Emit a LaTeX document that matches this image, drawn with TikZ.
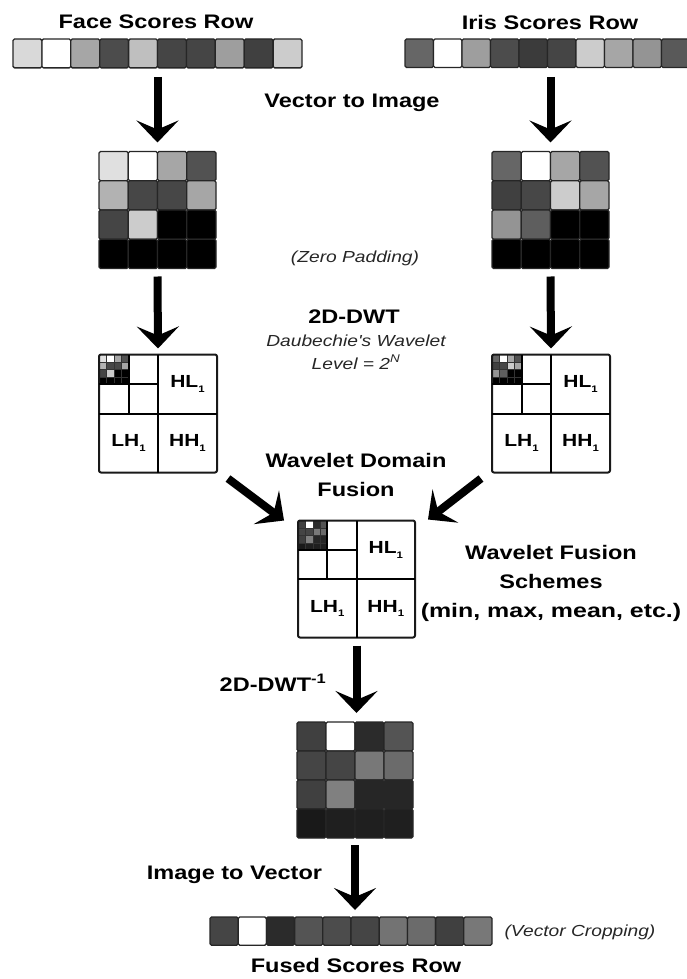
\documentclass[tikz,border=0pt]{standalone}
\usepackage{fontspec}
\setmainfont{Liberation Sans}
\newfontfamily\lblfont[FakeStretch=1.2]{Liberation Sans}
\usetikzlibrary{arrows.meta,positioning,calc}

\begin{document}
\begin{tikzpicture}[x=1pt,y=-1pt, line join=round, font=\lblfont,
    title/.style={font=\lblfont\bfseries\fontsize{19.6}{29}\selectfont, align=center, inner sep=0pt},
    note/.style={font=\lblfont\itshape\fontsize{16}{23}\selectfont, align=center, inner sep=0pt, text=black!85},
    band/.style={font=\lblfont\bfseries\fontsize{17.5}{18}\selectfont, inner sep=0pt},
    blk/.style={inner sep=0pt, outer sep=0pt},
    cell/.style={draw=black!85, line width=1.3pt, rounded corners=1.5pt},
    tiny/.style={draw=black!80, line width=.4pt},
    wbox/.style={draw=black!90, line width=2pt, rounded corners=2pt},
    bigarrow/.style={line width=8pt, -{Stealth[length=22pt,width=42pt,inset=9pt]}}]
  \useasboundingbox (0,0) rectangle (687,979);
  % grey cells: node, cell size, columns, style, lightness list
  \def\cells#1#2#3#4#5{%
    \foreach \g [count=\k from 0] in {#5} {
      \pgfmathtruncatemacro\cc{mod(\k,#3)}
      \pgfmathtruncatemacro\rr{div(\k,#3)}
      \filldraw[#4, fill=white!\g!black] ([shift={(\cc*#2,\rr*#2)}]#1.north west) rectangle ++(#2,#2);
    }}
  \def\sub{\raisebox{-4.5pt}{\fontsize{9.5}{9.5}\selectfont 1}}
  % wavelet sub-band box
  \def\wavebox#1{%
    \draw[wbox] (#1.north west) rectangle (#1.south east);
    \draw[line width=2pt] (#1.north) -- (#1.south) (#1.west) -- (#1.east);
    \draw[line width=2pt] ($(#1.north west)!.5!(#1.north)$) -- ($(#1.west)!.5!(#1.center)$)
      ($(#1.north west)!.5!(#1.west)$) -- ($(#1.north)!.5!(#1.center)$);
    \node[band] (#1-hl) at ($(#1.north)!.5!(#1.east)$) {HL\sub};
    \node[band] (#1-lh) at ($(#1.west)!.5!(#1.south)$) {LH\sub};
    \node[band] (#1-hh) at ($(#1.south)!.5!(#1.east)$) {HH\sub};}

  % score rows
  \node[title] (ftitle) at (156,22) {Face Scores Row};
  \node[title] (ititle) at (550,22) {Iris Scores Row};
  \node[blk, minimum width=289pt, minimum height=29pt] (frow) at (157.5,53.5) {};
  \node[blk, minimum width=285pt, minimum height=29pt] (irow) at (547.5,53.5) {};
  \cells{frow}{28.9}{10}{cell}{85,100,65,30,75,27,27,62,25,80}
  \cells{irow}{28.5}{10}{cell}{40,100,62,30,23,27,80,65,58,35}

  \node[title] (v2i) at (352,103) {Vector to Image};

  % score images
  \node[blk, minimum size=117pt] (fmat) at (157.5,210) {};
  \node[blk, minimum size=117pt] (imat) at (550.5,210) {};
  \cells{fmat}{29.25}{4}{cell}{88,100,65,32,70,28,28,65,27,80,0,0,0,0,0,0}
  \cells{imat}{29.25}{4}{cell}{40,100,65,32,25,28,80,65,58,37,0,0,0,0,0,0}
  \node[note] (zpad) at (355,258) {(Zero Padding)};

  \draw[bigarrow] ([yshift=-9pt]frow.south -| fmat.north) -- ([yshift=9pt]fmat.north);
  \draw[bigarrow] ([yshift=-9pt]irow.south -| imat.north) -- ([yshift=9pt]imat.north);

  % 2D-DWT
  \node[title] (dwt) at (354,317) {2D-DWT};
  \node[note] (dwtnote) at (356,352) {Daubechie's Wavelet\\Level = 2\textsuperscript{N}};
  \node[blk, minimum size=118pt] (fwav) at (158,413.5) {};
  \node[blk, minimum size=118pt] (iwav) at (551,413.5) {};
  \cells{fwav}{7.4}{4}{tiny}{88,100,65,32,70,28,28,65,27,80,0,0,0,0,0,0}
  \cells{iwav}{7.4}{4}{tiny}{40,100,65,32,25,28,80,65,58,37,0,0,0,0,0,0}
  \wavebox{fwav}
  \wavebox{iwav}

  \draw[bigarrow] ([yshift=-8pt]fmat.south) -- ([yshift=6pt]fwav.north);
  \draw[bigarrow] ([yshift=-8pt]imat.south) -- ([yshift=6pt]iwav.north);

  % fusion
  \node[title] (wdf) at (356,475) {Wavelet Domain\\Fusion};
  \node[blk, minimum size=117pt] (uwav) at (356.5,579) {};
  \cells{uwav}{7.4}{4}{tiny}{25,100,17,33,27,27,47,42,25,50,15,15,10,12,12,12}
  \wavebox{uwav}
  \node[title] (wfs) at (551,583) {Wavelet Fusion\\Schemes\\\scalebox{1.06}[1]{(min, max, mean, etc.)}};

  \draw[bigarrow] ([shift={(11pt,-6pt)}]fwav.south east) -- ([shift={(-14pt,0pt)}]uwav.north west);
  \draw[bigarrow] ([shift={(-11pt,-6pt)}]iwav.south west) -- ([shift={(13pt,1pt)}]uwav.north east);

  % inverse transform
  \node[title] (idwt) at (273,683) {2D-DWT\textsuperscript{-1}};
  \node[blk, minimum size=116pt] (umat) at (355,780) {};
  \cells{umat}{29}{4}{cell}{25,100,17,33,27,27,47,42,25,50,15,15,10,12,12,12}
  \draw[bigarrow] ([yshift=-8pt]uwav.south) -- ([yshift=9pt]uwav.south |- umat.north);

  % fused row
  \node[title] (i2v) at (234.5,875) {Image to Vector};
  \node[blk, minimum width=282pt, minimum height=29pt] (urow) at (351,931.5) {};
  \cells{urow}{28.2}{10}{cell}{27,100,17,33,30,27,45,42,25,47}
  \node[note] (vcrop) at (580,932) {(Vector Cropping)};
  \node[title] (utitle) at (356,965) {Fused Scores Row};
  \draw[bigarrow] ([yshift=-7pt]umat.south) -- ([yshift=7pt]umat.south |- urow.north);
\end{tikzpicture}
\end{document}
